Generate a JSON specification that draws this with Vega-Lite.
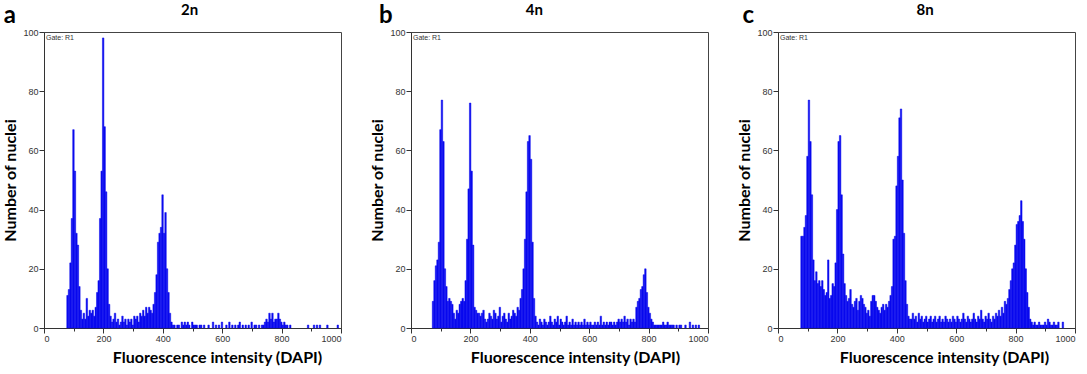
{
  "$schema": "https://vega.github.io/schema/vega-lite/v6.json",
  "padding": {"left": 2, "top": 2, "right": 3, "bottom": 1},
  "bounds": "flush",
  "spacing": 70,
  "config": {
    "view": {"stroke": "#444444", "strokeWidth": 1},
    "axis": {
      "grid": false,
      "labelFont": "Liberation Sans Narrow, Liberation Sans",
      "labelFontSize": 9,
      "labelColor": "#333333",
      "labelPadding": 1,
      "tickColor": "#333333",
      "domainColor": "#333333",
      "titleFont": "Lato",
      "titleFontWeight": "bold",
      "titleFontSize": 16,
      "titleColor": "#000000"
    },
    "bar": {"color": "#0a0aee", "stroke": "#0a0aee", "strokeWidth": 0.5, "binSpacing": 0}
  },
  "datasets": {
    "a": [
      {"x":75,"y":11},{"x":80,"y":13},{"x":85,"y":22},{"x":90,"y":37},{"x":95,"y":67},{"x":100,"y":53},{"x":105,"y":32},{"x":110,"y":28},{"x":115,"y":14},{"x":120,"y":6},
      {"x":125,"y":3},{"x":130,"y":5},{"x":135,"y":3},{"x":140,"y":10},{"x":145,"y":4},{"x":150,"y":6},{"x":155,"y":5},{"x":160,"y":6},{"x":165,"y":4},{"x":170,"y":7},
      {"x":175,"y":12},{"x":180,"y":16},{"x":185,"y":37},{"x":190,"y":53},{"x":195,"y":98},{"x":200,"y":68},{"x":205,"y":46},{"x":210,"y":20},{"x":215,"y":8},{"x":220,"y":4},
      {"x":225,"y":2},{"x":230,"y":3},{"x":235,"y":5},{"x":240,"y":2},{"x":245,"y":3},{"x":250,"y":1},{"x":255,"y":2},{"x":260,"y":4},{"x":265,"y":2},{"x":270,"y":3},
      {"x":275,"y":1},{"x":280,"y":3},{"x":285,"y":2},{"x":290,"y":3},{"x":295,"y":1},{"x":300,"y":4},{"x":305,"y":3},{"x":310,"y":4},{"x":315,"y":2},{"x":320,"y":5},
      {"x":325,"y":4},{"x":330,"y":6},{"x":335,"y":4},{"x":340,"y":7},{"x":345,"y":5},{"x":350,"y":7},{"x":355,"y":6},{"x":360,"y":5},{"x":365,"y":8},{"x":370,"y":12},
      {"x":375,"y":18},{"x":380,"y":29},{"x":385,"y":32},{"x":390,"y":34},{"x":395,"y":45},{"x":400,"y":32},{"x":405,"y":39},{"x":410,"y":20},{"x":415,"y":12},{"x":420,"y":5},
      {"x":425,"y":2},{"x":430,"y":1},{"x":435,"y":1},{"x":445,"y":1},{"x":450,"y":1},{"x":460,"y":2},{"x":465,"y":1},{"x":470,"y":2},{"x":475,"y":1},{"x":480,"y":2},
      {"x":485,"y":1},{"x":495,"y":2},{"x":500,"y":1},{"x":505,"y":1},{"x":510,"y":1},{"x":520,"y":1},{"x":525,"y":1},{"x":535,"y":1},{"x":550,"y":1},{"x":565,"y":2},
      {"x":575,"y":1},{"x":585,"y":1},{"x":595,"y":2},{"x":610,"y":1},{"x":620,"y":2},{"x":630,"y":1},{"x":640,"y":1},{"x":650,"y":1},{"x":655,"y":2},{"x":665,"y":1},
      {"x":675,"y":1},{"x":685,"y":1},{"x":695,"y":2},{"x":705,"y":1},{"x":710,"y":1},{"x":720,"y":1},{"x":730,"y":1},{"x":735,"y":1},{"x":740,"y":2},{"x":745,"y":3},
      {"x":750,"y":2},{"x":755,"y":5},{"x":760,"y":3},{"x":765,"y":5},{"x":770,"y":2},{"x":775,"y":3},{"x":780,"y":3},{"x":785,"y":5},{"x":790,"y":3},{"x":795,"y":2},
      {"x":800,"y":1},{"x":805,"y":2},{"x":810,"y":1},{"x":815,"y":1},{"x":825,"y":1},{"x":885,"y":1},{"x":905,"y":1},{"x":915,"y":1},{"x":925,"y":1},{"x":950,"y":1},{"x":985,"y":1}
    ],
    "b": [
      {"x":70,"y":9},{"x":75,"y":16},{"x":80,"y":21},{"x":85,"y":23},{"x":90,"y":29},{"x":95,"y":67},{"x":100,"y":77},{"x":105,"y":63},{"x":110,"y":20},{"x":115,"y":14},
      {"x":120,"y":9},{"x":125,"y":10},{"x":130,"y":9},{"x":135,"y":8},{"x":140,"y":5},{"x":145,"y":3},{"x":150,"y":6},{"x":155,"y":5},{"x":160,"y":8},{"x":165,"y":9},
      {"x":170,"y":10},{"x":175,"y":9},{"x":180,"y":16},{"x":185,"y":30},{"x":190,"y":47},{"x":195,"y":76},{"x":200,"y":53},{"x":205,"y":28},{"x":210,"y":7},{"x":215,"y":6},
      {"x":220,"y":5},{"x":225,"y":5},{"x":230,"y":4},{"x":235,"y":5},{"x":240,"y":6},{"x":245,"y":3},{"x":250,"y":2},{"x":255,"y":3},{"x":260,"y":5},{"x":265,"y":4},
      {"x":270,"y":3},{"x":275,"y":6},{"x":280,"y":5},{"x":285,"y":3},{"x":290,"y":4},{"x":295,"y":7},{"x":300,"y":2},{"x":305,"y":4},{"x":310,"y":5},{"x":315,"y":3},
      {"x":320,"y":2},{"x":325,"y":5},{"x":330,"y":3},{"x":335,"y":4},{"x":340,"y":6},{"x":345,"y":5},{"x":350,"y":4},{"x":355,"y":7},{"x":360,"y":6},{"x":365,"y":10},
      {"x":370,"y":13},{"x":375,"y":20},{"x":380,"y":30},{"x":385,"y":46},{"x":390,"y":63},{"x":395,"y":65},{"x":400,"y":57},{"x":405,"y":29},{"x":410,"y":10},{"x":415,"y":4},
      {"x":420,"y":2},{"x":425,"y":1},{"x":430,"y":3},{"x":435,"y":2},{"x":440,"y":1},{"x":445,"y":3},{"x":450,"y":2},{"x":455,"y":1},{"x":460,"y":2},{"x":465,"y":4},
      {"x":470,"y":2},{"x":475,"y":1},{"x":480,"y":3},{"x":485,"y":2},{"x":490,"y":4},{"x":495,"y":1},{"x":500,"y":3},{"x":505,"y":2},{"x":510,"y":1},{"x":515,"y":2},
      {"x":520,"y":4},{"x":525,"y":1},{"x":530,"y":2},{"x":535,"y":1},{"x":540,"y":3},{"x":545,"y":1},{"x":550,"y":2},{"x":555,"y":1},{"x":560,"y":2},{"x":565,"y":1},
      {"x":570,"y":2},{"x":575,"y":1},{"x":580,"y":3},{"x":585,"y":1},{"x":590,"y":2},{"x":595,"y":1},{"x":600,"y":2},{"x":605,"y":1},{"x":610,"y":1},{"x":615,"y":2},
      {"x":620,"y":1},{"x":625,"y":2},{"x":630,"y":1},{"x":635,"y":4},{"x":640,"y":1},{"x":645,"y":2},{"x":650,"y":1},{"x":655,"y":2},{"x":660,"y":1},{"x":665,"y":2},
      {"x":670,"y":2},{"x":675,"y":1},{"x":680,"y":2},{"x":685,"y":1},{"x":690,"y":2},{"x":695,"y":3},{"x":700,"y":2},{"x":705,"y":3},{"x":710,"y":2},{"x":715,"y":4},
      {"x":720,"y":2},{"x":725,"y":3},{"x":730,"y":1},{"x":735,"y":3},{"x":740,"y":2},{"x":745,"y":3},{"x":750,"y":2},{"x":755,"y":7},{"x":760,"y":9},{"x":765,"y":10},
      {"x":770,"y":13},{"x":775,"y":14},{"x":780,"y":18},{"x":785,"y":20},{"x":790,"y":12},{"x":795,"y":7},{"x":800,"y":5},{"x":805,"y":3},{"x":810,"y":2},{"x":815,"y":1},
      {"x":820,"y":1},{"x":825,"y":1},{"x":830,"y":1},{"x":835,"y":1},{"x":840,"y":1},{"x":845,"y":2},{"x":850,"y":1},{"x":855,"y":1},{"x":860,"y":2},{"x":865,"y":1},
      {"x":870,"y":1},{"x":875,"y":1},{"x":880,"y":1},{"x":890,"y":1},{"x":900,"y":1},{"x":905,"y":1},{"x":920,"y":1},{"x":935,"y":2},{"x":945,"y":1},{"x":955,"y":1},{"x":965,"y":1}
    ],
    "c": [
      {"x":75,"y":31},{"x":80,"y":31},{"x":85,"y":34},{"x":90,"y":38},{"x":95,"y":58},{"x":100,"y":77},{"x":105,"y":63},{"x":110,"y":45},{"x":115,"y":23},{"x":120,"y":16},
      {"x":125,"y":19},{"x":130,"y":15},{"x":135,"y":16},{"x":140,"y":14},{"x":145,"y":16},{"x":150,"y":13},{"x":155,"y":11},{"x":160,"y":12},{"x":165,"y":23},{"x":170,"y":10},
      {"x":175,"y":11},{"x":180,"y":15},{"x":185,"y":14},{"x":190,"y":22},{"x":195,"y":40},{"x":200,"y":63},{"x":205,"y":65},{"x":210,"y":45},{"x":215,"y":25},{"x":220,"y":15},
      {"x":225,"y":11},{"x":230,"y":9},{"x":235,"y":10},{"x":240,"y":13},{"x":245,"y":8},{"x":250,"y":7},{"x":255,"y":9},{"x":260,"y":10},{"x":265,"y":6},{"x":270,"y":9},
      {"x":275,"y":11},{"x":280,"y":10},{"x":285,"y":8},{"x":290,"y":7},{"x":295,"y":5},{"x":300,"y":6},{"x":305,"y":4},{"x":310,"y":9},{"x":315,"y":11},{"x":320,"y":11},
      {"x":325,"y":9},{"x":330,"y":7},{"x":335,"y":6},{"x":340,"y":5},{"x":345,"y":7},{"x":350,"y":8},{"x":355,"y":6},{"x":360,"y":8},{"x":365,"y":7},{"x":370,"y":9},
      {"x":375,"y":11},{"x":380,"y":14},{"x":385,"y":30},{"x":390,"y":31},{"x":395,"y":48},{"x":400,"y":58},{"x":405,"y":71},{"x":410,"y":74},{"x":415,"y":50},{"x":420,"y":32},
      {"x":425,"y":16},{"x":430,"y":8},{"x":435,"y":4},{"x":440,"y":3},{"x":445,"y":3},{"x":450,"y":5},{"x":455,"y":3},{"x":460,"y":4},{"x":465,"y":2},{"x":470,"y":5},
      {"x":475,"y":3},{"x":480,"y":4},{"x":485,"y":2},{"x":490,"y":3},{"x":495,"y":4},{"x":500,"y":2},{"x":505,"y":3},{"x":510,"y":4},{"x":515,"y":2},{"x":520,"y":3},
      {"x":525,"y":4},{"x":530,"y":2},{"x":535,"y":3},{"x":540,"y":4},{"x":545,"y":2},{"x":550,"y":3},{"x":555,"y":2},{"x":560,"y":4},{"x":565,"y":3},{"x":570,"y":2},
      {"x":575,"y":3},{"x":580,"y":2},{"x":585,"y":4},{"x":590,"y":3},{"x":595,"y":2},{"x":600,"y":4},{"x":605,"y":3},{"x":610,"y":2},{"x":615,"y":3},{"x":620,"y":5},
      {"x":625,"y":3},{"x":630,"y":2},{"x":635,"y":4},{"x":640,"y":3},{"x":645,"y":2},{"x":650,"y":3},{"x":655,"y":5},{"x":660,"y":3},{"x":665,"y":2},{"x":670,"y":4},
      {"x":675,"y":3},{"x":680,"y":6},{"x":685,"y":3},{"x":690,"y":2},{"x":695,"y":4},{"x":700,"y":3},{"x":705,"y":5},{"x":710,"y":3},{"x":715,"y":2},{"x":720,"y":4},
      {"x":725,"y":3},{"x":730,"y":5},{"x":735,"y":4},{"x":740,"y":6},{"x":745,"y":4},{"x":750,"y":7},{"x":755,"y":5},{"x":760,"y":9},{"x":765,"y":8},{"x":770,"y":10},
      {"x":775,"y":13},{"x":780,"y":16},{"x":785,"y":20},{"x":790,"y":22},{"x":795,"y":28},{"x":800,"y":35},{"x":805,"y":36},{"x":810,"y":38},{"x":815,"y":43},{"x":820,"y":36},
      {"x":825,"y":30},{"x":830,"y":20},{"x":835,"y":12},{"x":840,"y":7},{"x":845,"y":3},{"x":850,"y":2},{"x":855,"y":1},{"x":860,"y":2},{"x":865,"y":1},{"x":870,"y":1},
      {"x":875,"y":2},{"x":880,"y":1},{"x":885,"y":1},{"x":890,"y":1},{"x":895,"y":2},{"x":900,"y":1},{"x":905,"y":3},{"x":910,"y":2},{"x":915,"y":1},{"x":920,"y":1},
      {"x":925,"y":2},{"x":930,"y":1},{"x":935,"y":1},{"x":940,"y":2},{"x":955,"y":2}
    ],
    "gate": [{"label": "Gate: R1"}]
  },
  "hconcat": [
    {
      "width": 297, "height": 296,
      "layer": [
        {
          "data": {"name": "a"},
          "mark": {"type": "bar"},
          "encoding": {
            "x": {"field": "x", "type": "quantitative", "bin": {"binned": true, "step": 5},
              "scale": {"domain": [0, 1000], "nice": false},
              "title": "Fluorescence intensity (DAPI)",
              "axis": {"values": [0,100,200,300,400,500,600,700,800,900,1000], "format": "d", "labelExpr": "datum.value % 200 ? '' : datum.label", "tickSize": {"condition": {"test": "datum.value % 200 !== 0", "value": 3}, "value": 5}, "titlePadding": 6, "titleX": 173}},
            "y": {"field": "y", "type": "quantitative",
              "scale": {"domain": [0, 100], "nice": false},
              "title": "Number of nuclei",
              "axis": {"values": [0,10,20,30,40,50,60,70,80,90,100], "labelExpr": "datum.value % 20 ? '' : datum.label", "tickSize": {"condition": {"test": "datum.value % 20 !== 0", "value": 3}, "value": 5}, "titlePadding": 4}}
          }
        },
        {
          "data": {"name": "gate"},
          "mark": {"type": "text", "align": "left", "baseline": "top", "font": "Liberation Sans", "fontSize": 7, "color": "#333333", "dx": 2, "dy": 2},
          "encoding": {"x": {"datum": 0}, "y": {"datum": 100}, "text": {"field": "label"}}
        },
        {
          "data": {"values": [{"letter": "a", "title": "2n"}]},
          "layer": [
            {"mark": {"type": "text", "font": "Lato", "fontWeight": "bold", "fontSize": 24, "color": "#000000"},
             "encoding": {"x": {"datum": -115}, "y": {"datum": 105.5}, "text": {"field": "letter"}}},
            {"mark": {"type": "text", "font": "Lato", "fontWeight": "bold", "fontSize": 15, "color": "#000000"},
             "encoding": {"x": {"datum": 490}, "y": {"datum": 107.5}, "text": {"field": "title"}}}
          ]
        }
      ]
    },
    {
      "width": 297, "height": 296,
      "layer": [
        {
          "data": {"name": "b"},
          "mark": {"type": "bar"},
          "encoding": {
            "x": {"field": "x", "type": "quantitative", "bin": {"binned": true, "step": 5},
              "scale": {"domain": [0, 1000], "nice": false},
              "title": "Fluorescence intensity (DAPI)",
              "axis": {"values": [0,100,200,300,400,500,600,700,800,900,1000], "format": "d", "labelExpr": "datum.value % 200 ? '' : datum.label", "tickSize": {"condition": {"test": "datum.value % 200 !== 0", "value": 3}, "value": 5}, "titlePadding": 6, "titleX": 164}},
            "y": {"field": "y", "type": "quantitative",
              "scale": {"domain": [0, 100], "nice": false},
              "title": "Number of nuclei",
              "axis": {"values": [0,10,20,30,40,50,60,70,80,90,100], "labelExpr": "datum.value % 20 ? '' : datum.label", "tickSize": {"condition": {"test": "datum.value % 20 !== 0", "value": 3}, "value": 5}, "titlePadding": 4}}
          }
        },
        {
          "data": {"name": "gate"},
          "mark": {"type": "text", "align": "left", "baseline": "top", "font": "Liberation Sans", "fontSize": 7, "color": "#333333", "dx": 2, "dy": 2},
          "encoding": {"x": {"datum": 0}, "y": {"datum": 100}, "text": {"field": "label"}}
        },
        {
          "data": {"values": [{"letter": "b", "title": "4n"}]},
          "layer": [
            {"mark": {"type": "text", "font": "Lato", "fontWeight": "bold", "fontSize": 24, "color": "#000000"},
             "encoding": {"x": {"datum": -85}, "y": {"datum": 105.5}, "text": {"field": "letter"}}},
            {"mark": {"type": "text", "font": "Lato", "fontWeight": "bold", "fontSize": 15, "color": "#000000"},
             "encoding": {"x": {"datum": 415}, "y": {"datum": 107.5}, "text": {"field": "title"}}}
          ]
        }
      ]
    },
    {
      "width": 297, "height": 296,
      "layer": [
        {
          "data": {"name": "c"},
          "mark": {"type": "bar"},
          "encoding": {
            "x": {"field": "x", "type": "quantitative", "bin": {"binned": true, "step": 5},
              "scale": {"domain": [0, 1000], "nice": false},
              "title": "Fluorescence intensity (DAPI)",
              "axis": {"values": [0,100,200,300,400,500,600,700,800,900,1000], "format": "d", "labelExpr": "datum.value % 200 ? '' : datum.label", "tickSize": {"condition": {"test": "datum.value % 200 !== 0", "value": 3}, "value": 5}, "titlePadding": 6, "titleX": 166}},
            "y": {"field": "y", "type": "quantitative",
              "scale": {"domain": [0, 100], "nice": false},
              "title": "Number of nuclei",
              "axis": {"values": [0,10,20,30,40,50,60,70,80,90,100], "labelExpr": "datum.value % 20 ? '' : datum.label", "tickSize": {"condition": {"test": "datum.value % 20 !== 0", "value": 3}, "value": 5}, "titlePadding": 4}}
          }
        },
        {
          "data": {"name": "gate"},
          "mark": {"type": "text", "align": "left", "baseline": "top", "font": "Liberation Sans", "fontSize": 7, "color": "#333333", "dx": 2, "dy": 2},
          "encoding": {"x": {"datum": 0}, "y": {"datum": 100}, "text": {"field": "label"}}
        },
        {
          "data": {"values": [{"letter": "c", "title": "8n"}]},
          "layer": [
            {"mark": {"type": "text", "font": "Lato", "fontWeight": "bold", "fontSize": 24, "color": "#000000"},
             "encoding": {"x": {"datum": -100}, "y": {"datum": 105.5}, "text": {"field": "letter"}}},
            {"mark": {"type": "text", "font": "Lato", "fontWeight": "bold", "fontSize": 15, "color": "#000000"},
             "encoding": {"x": {"datum": 495}, "y": {"datum": 107.5}, "text": {"field": "title"}}}
          ]
        }
      ]
    }
  ]
}
